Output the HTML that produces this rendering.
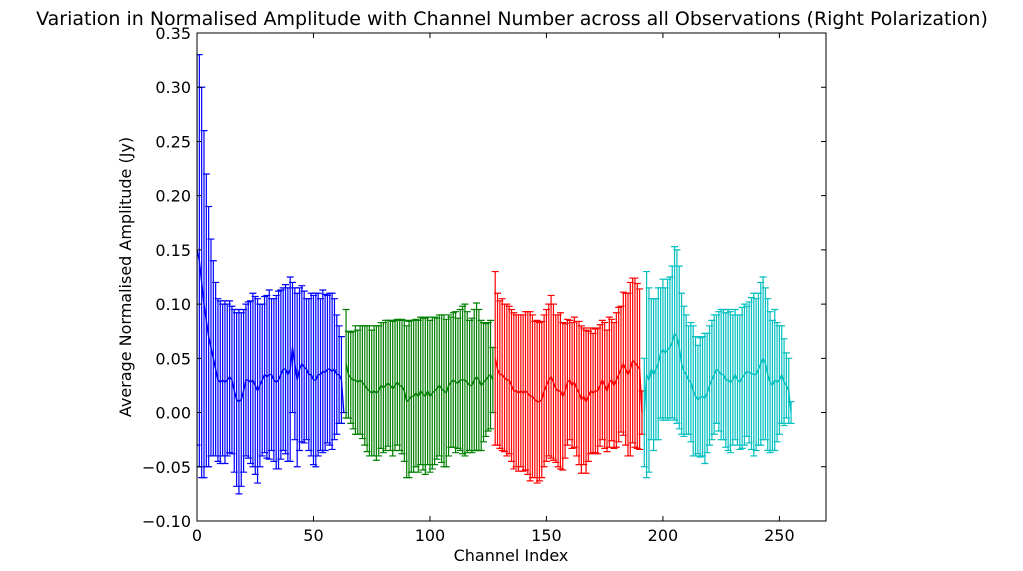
<!DOCTYPE html>
<html><head><meta charset="utf-8"><style>
html,body{margin:0;padding:0;background:#fff;}
svg{display:block;font-family:"DejaVu Sans","Liberation Sans",sans-serif;}
</style></head><body>
<svg id="chart" width="1023" height="571">
<text x="512" y="25" text-anchor="middle" font-size="19">Variation in Normalised Amplitude with Channel Number across all Observations (Right Polarization)</text>
<text x="511" y="561" text-anchor="middle" font-size="16">Channel Index</text>
<text transform="translate(131,277) rotate(-90)" text-anchor="middle" font-size="16">Average Normalised Amplitude (Jy)</text>
<g id="marks"></g>
<g id="axes"></g>
</svg>
<script>
const seriesStarts=[0,64,128,192];
const seriesColors=["#0000ff","#008000","#ff0000","#00bfbf"];
const seriesNames=["blue","green","red","cyan"];
const blueMeans=[0.15,0.14,0.12,0.10,0.085,0.07,0.06,0.05,0.04,0.03,0.028,0.03,0.028,0.03,0.033,0.03,0.02,0.012,0.01,0.012,0.02,0.03,0.03,0.028,0.03,0.025,0.02,0.025,0.03,0.035,0.033,0.035,0.035,0.03,0.028,0.03,0.035,0.04,0.04,0.035,0.04,0.06,0.045,0.03,0.04,0.045,0.042,0.04,0.035,0.035,0.03,0.03,0.035,0.035,0.038,0.037,0.04,0.04,0.038,0.04,0.035,0.035,0.03,0.0];
const blueErrs=[0.18,0.19,0.18,0.16,0.135,0.12,0.10,0.09,0.08,0.075,0.075,0.07,0.075,0.07,0.07,0.068,0.075,0.08,0.085,0.08,0.075,0.07,0.072,0.075,0.08,0.082,0.085,0.075,0.07,0.072,0.075,0.078,0.07,0.075,0.08,0.082,0.078,0.075,0.078,0.08,0.085,0.06,0.07,0.08,0.075,0.072,0.07,0.065,0.07,0.075,0.078,0.08,0.075,0.07,0.075,0.072,0.068,0.07,0.072,0.065,0.055,0.045,0.04,0.0];
const greenMeans=[0.045,0.035,0.032,0.03,0.03,0.028,0.03,0.028,0.025,0.022,0.02,0.018,0.02,0.018,0.02,0.025,0.023,0.025,0.027,0.025,0.022,0.025,0.028,0.025,0.024,0.02,0.01,0.012,0.015,0.015,0.018,0.015,0.02,0.017,0.015,0.02,0.015,0.018,0.02,0.022,0.025,0.022,0.02,0.018,0.025,0.028,0.03,0.028,0.027,0.03,0.03,0.03,0.028,0.025,0.025,0.03,0.033,0.03,0.025,0.028,0.03,0.033,0.035,0.03];
const greenErrs=[0.05,0.04,0.042,0.045,0.05,0.048,0.05,0.052,0.055,0.058,0.06,0.058,0.06,0.062,0.06,0.058,0.06,0.06,0.058,0.06,0.062,0.06,0.058,0.06,0.062,0.065,0.07,0.072,0.07,0.07,0.068,0.07,0.068,0.07,0.072,0.068,0.07,0.07,0.068,0.065,0.065,0.068,0.07,0.068,0.065,0.06,0.062,0.065,0.06,0.065,0.068,0.07,0.065,0.06,0.062,0.065,0.068,0.065,0.06,0.055,0.052,0.05,0.05,0.03];
const redMeans=[0.05,0.04,0.035,0.035,0.032,0.03,0.03,0.025,0.02,0.02,0.018,0.02,0.018,0.02,0.018,0.015,0.015,0.012,0.01,0.01,0.012,0.02,0.025,0.03,0.033,0.028,0.022,0.02,0.02,0.015,0.02,0.028,0.03,0.025,0.028,0.022,0.018,0.012,0.015,0.01,0.015,0.02,0.018,0.02,0.02,0.025,0.03,0.025,0.02,0.028,0.03,0.025,0.03,0.035,0.04,0.045,0.04,0.035,0.04,0.048,0.046,0.043,0.04,0.0];
const redErrs=[0.08,0.07,0.068,0.07,0.068,0.07,0.068,0.07,0.072,0.07,0.072,0.07,0.072,0.073,0.075,0.078,0.075,0.072,0.075,0.073,0.072,0.07,0.07,0.07,0.075,0.072,0.068,0.07,0.072,0.068,0.062,0.058,0.055,0.058,0.06,0.062,0.066,0.068,0.063,0.066,0.06,0.058,0.055,0.057,0.058,0.056,0.055,0.058,0.056,0.06,0.056,0.058,0.062,0.062,0.058,0.066,0.07,0.075,0.08,0.076,0.078,0.076,0.074,0.02];
const cyanMeans=[0.0,0.035,0.03,0.04,0.035,0.04,0.045,0.055,0.058,0.055,0.058,0.06,0.065,0.073,0.07,0.06,0.045,0.038,0.035,0.03,0.028,0.02,0.015,0.012,0.014,0.015,0.013,0.018,0.025,0.03,0.035,0.04,0.038,0.035,0.035,0.03,0.03,0.028,0.03,0.035,0.03,0.028,0.032,0.035,0.038,0.037,0.036,0.035,0.035,0.04,0.045,0.05,0.045,0.035,0.028,0.025,0.03,0.028,0.03,0.035,0.028,0.025,0.02,0.0];
const cyanErrs=[0.05,0.095,0.085,0.065,0.07,0.065,0.07,0.06,0.065,0.06,0.065,0.065,0.07,0.08,0.08,0.075,0.065,0.06,0.055,0.05,0.055,0.06,0.055,0.05,0.055,0.055,0.06,0.055,0.055,0.055,0.055,0.05,0.055,0.06,0.06,0.062,0.065,0.065,0.06,0.06,0.06,0.062,0.065,0.065,0.06,0.065,0.07,0.075,0.07,0.07,0.075,0.075,0.07,0.07,0.065,0.06,0.065,0.055,0.05,0.045,0.04,0.03,0.03,0.01];
const xTicks=[0,50,100,150,200,250];
const yTicks=[-0.10,-0.05,0.00,0.05,0.10,0.15,0.20,0.25,0.30,0.35];

const allMeans=[blueMeans,greenMeans,redMeans,cyanMeans];
const allErrs=[blueErrs,greenErrs,redErrs,cyanErrs];
const L=197,R=826,T=33,B=521,X0=0,X1=270,Y0=-0.10,Y1=0.35;
const xs=v=>L+(v-X0)/(X1-X0)*(R-L);
const ys=v=>B-(v-Y0)/(Y1-Y0)*(B-T);
const NS="http://www.w3.org/2000/svg";
const marks=document.getElementById('marks');
const axes=document.getElementById('axes');
function mk(tag,attrs,parent){const e=document.createElementNS(NS,tag);for(const k in attrs)e.setAttribute(k,attrs[k]);parent.appendChild(e);return e;}
const clip=mk('clipPath',{id:'pc'},marks);mk('rect',{x:L,y:T,width:R-L,height:B-T},clip);
const plot=mk('g',{'clip-path':'url(#pc)'},marks);
for(let s=0;s<4;s++){
  const g=mk('g',{stroke:seriesColors[s],'stroke-width':1.2,fill:'none'},plot);
  
  
  const m=allMeans[s],e=allErrs[s];let pts=[];
  for(let i=0;i<m.length;i++){
    const x=xs(seriesStarts[s]+i),yt=ys(m[i]+e[i]),yb=ys(m[i]-e[i]);
    const bar=mk('path',{d:`M${x},${yt}V${yb}M${x-3.5},${yt}H${x+3.5}M${x-3.5},${yb}H${x+3.5}`},g);
    
    
    pts.push(x+','+ys(m[i]));
  }
  const ln=mk('polyline',{points:pts.join(' '),'stroke-width':1.4},g);
  
  
}
const frame=mk('rect',{x:L,y:T,width:R-L,height:B-T,fill:'none',stroke:'#000','stroke-width':1},axes);


xTicks.forEach(v=>{const x=xs(v);
  mk('path',{d:`M${x},${B}v-5M${x},${T}v5`,stroke:'#000'},axes);
  const t=mk('text',{x:x,y:B+20,'text-anchor':'middle','font-size':16},axes);t.textContent=v;
  
  
});
yTicks.forEach(v=>{const y=ys(v);
  mk('path',{d:`M${L},${y}h5M${R},${y}h-5`,stroke:'#000'},axes);
  const t=mk('text',{x:L-6,y:y+6,'text-anchor':'end','font-size':16},axes);t.textContent=(v<0?'\u2212':'')+Math.abs(v).toFixed(2);
  
  
});
</script>
</body></html>
